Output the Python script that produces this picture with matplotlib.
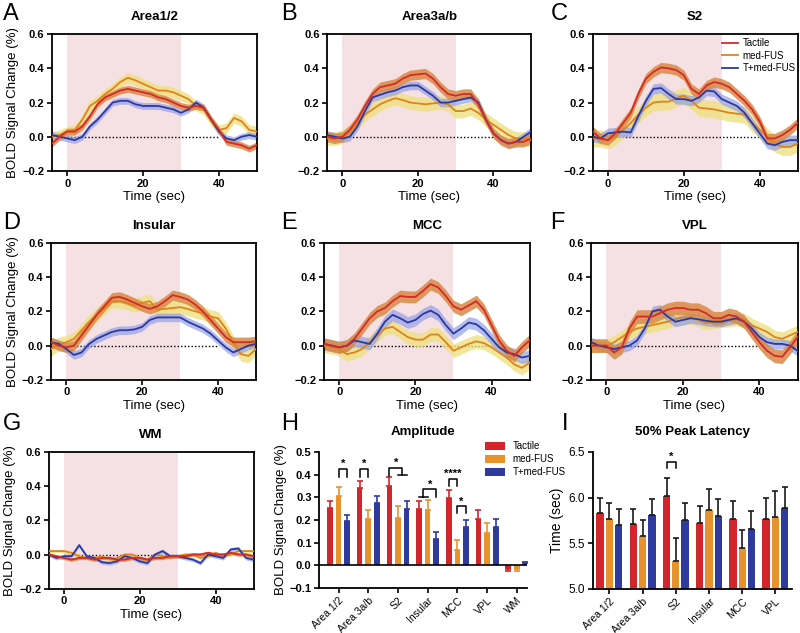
import numpy as np
import matplotlib.pyplot as plt

plt.rcParams['font.family'] = ['Liberation Sans', 'DejaVu Sans']

# ---- time courses (every 2 s) ----
time = [-4, -2, 0, 2, 4, 6, 8, 10, 12, 14, 16, 18, 20, 22, 24, 26, 28, 30,
        32, 34, 36, 38, 40, 42, 44, 46, 48, 50]

# Area1/2
a12_tac = [-0.04, 0.0, 0.03, 0.03, 0.06, 0.12, 0.19, 0.23, 0.25, 0.27, 0.28, 0.27, 0.26, 0.25,
           0.23, 0.22, 0.20, 0.18, 0.17, 0.18, 0.17, 0.10, 0.04, -0.03, -0.04, -0.05, -0.07, -0.05]
a12_med = [0.0, 0.01, 0.03, 0.04, 0.10, 0.18, 0.21, 0.25, 0.28, 0.32, 0.345, 0.33, 0.31, 0.29,
           0.27, 0.27, 0.26, 0.24, 0.22, 0.18, 0.16, 0.09, 0.04, 0.05, 0.11, 0.09, 0.04, 0.03]
a12_tmed = [0.01, 0.0, -0.01, -0.02, 0.0, 0.06, 0.10, 0.15, 0.20, 0.21, 0.21, 0.19, 0.18, 0.18,
            0.18, 0.17, 0.16, 0.14, 0.16, 0.20, 0.17, 0.10, 0.03, -0.01, -0.02, 0.0, 0.01, 0.0]
a12_sem = [0.02, 0.03, 0.02]

# Area3a/b
a3_tac = [0.0, -0.01, 0.0, 0.04, 0.10, 0.18, 0.25, 0.29, 0.30, 0.31, 0.34, 0.36, 0.365, 0.37,
          0.34, 0.29, 0.25, 0.24, 0.25, 0.25, 0.19, 0.10, 0.02, -0.02, -0.04, -0.03, -0.03, -0.01]
a3_med = [-0.01, -0.01, 0.0, 0.03, 0.08, 0.13, 0.16, 0.19, 0.21, 0.225, 0.215, 0.20, 0.195, 0.19,
          0.195, 0.20, 0.19, 0.15, 0.15, 0.165, 0.14, 0.10, 0.07, 0.04, 0.01, -0.01, -0.01, -0.02]
a3_tmed = [0.01, 0.0, -0.01, 0.0, 0.06, 0.15, 0.23, 0.245, 0.26, 0.27, 0.29, 0.30, 0.30, 0.27,
           0.24, 0.20, 0.20, 0.21, 0.22, 0.23, 0.20, 0.10, 0.02, -0.02, -0.04, -0.03, 0.0, 0.03]
a3_sem = [0.03, 0.04, 0.025]

# S2
s2_tac = [0.03, -0.01, -0.02, 0.02, 0.08, 0.14, 0.25, 0.34, 0.38, 0.405, 0.40, 0.39, 0.36, 0.28,
          0.25, 0.30, 0.32, 0.31, 0.29, 0.25, 0.21, 0.16, 0.09, -0.01, -0.01, 0.01, 0.04, 0.08]
s2_med = [-0.01, -0.01, -0.02, 0.0, 0.04, 0.08, 0.13, 0.17, 0.20, 0.205, 0.205, 0.225, 0.24, 0.21,
          0.17, 0.165, 0.16, 0.15, 0.14, 0.135, 0.13, 0.08, 0.04, 0.0, -0.04, -0.06, -0.06, -0.04]
s2_tmed = [0.0, -0.01, 0.02, 0.025, 0.03, 0.025, 0.12, 0.21, 0.28, 0.285, 0.25, 0.22, 0.22, 0.21,
           0.23, 0.27, 0.265, 0.22, 0.20, 0.18, 0.14, 0.08, 0.02, -0.04, -0.05, -0.03, -0.02, -0.02]
s2_sem = [0.03, 0.05, 0.03]

# Insular
ins_tac = [0.02, 0.0, -0.01, 0.0, 0.06, 0.12, 0.18, 0.23, 0.28, 0.285, 0.27, 0.25, 0.23, 0.215,
           0.23, 0.26, 0.295, 0.285, 0.27, 0.24, 0.20, 0.15, 0.10, 0.05, 0.02, 0.02, 0.02, 0.025]
ins_med = [-0.02, 0.01, 0.02, 0.04, 0.09, 0.14, 0.18, 0.22, 0.26, 0.26, 0.25, 0.235, 0.25, 0.26,
           0.21, 0.215, 0.22, 0.225, 0.215, 0.20, 0.19, 0.17, 0.16, 0.10, 0.02, -0.05, -0.06, -0.02]
ins_tmed = [0.02, 0.01, -0.02, -0.055, -0.04, 0.01, 0.04, 0.06, 0.08, 0.09, 0.09, 0.095, 0.11, 0.15,
            0.165, 0.165, 0.165, 0.165, 0.14, 0.12, 0.10, 0.07, 0.03, -0.01, -0.04, -0.02, 0.0, 0.01]
ins_sem = [0.03, 0.04, 0.025]

# MCC
mcc_tac = [0.01, 0.0, -0.01, 0.0, 0.04, 0.10, 0.16, 0.20, 0.22, 0.26, 0.29, 0.285, 0.285, 0.32,
           0.36, 0.34, 0.29, 0.23, 0.21, 0.235, 0.26, 0.21, 0.12, 0.03, -0.03, -0.06, -0.01, 0.03]
mcc_med = [0.0, -0.01, -0.02, -0.05, -0.04, -0.02, 0.02, 0.06, 0.10, 0.11, 0.08, 0.05, 0.035, 0.035,
           0.065, 0.065, 0.02, -0.03, -0.01, 0.01, 0.025, 0.015, -0.01, -0.04, -0.07, -0.11, -0.13, -0.10]
mcc_tmed = [0.01, 0.0, -0.01, 0.0, 0.03, 0.02, 0.01, 0.07, 0.14, 0.18, 0.16, 0.135, 0.15, 0.185,
            0.205, 0.18, 0.12, 0.07, 0.10, 0.135, 0.125, 0.09, 0.04, -0.01, -0.04, -0.05, -0.07, -0.06]
mcc_sem = [0.035, 0.04, 0.035]

# VPL
vpl_tac = [0.0, 0.0, 0.0, -0.04, -0.01, 0.10, 0.17, 0.17, 0.17, 0.19, 0.21, 0.22, 0.22, 0.21,
           0.21, 0.19, 0.16, 0.16, 0.18, 0.17, 0.14, 0.08, 0.02, -0.03, -0.06, -0.065, -0.01, 0.05]
vpl_med = [0.0, 0.0, 0.0, 0.02, 0.05, 0.08, 0.10, 0.11, 0.12, 0.13, 0.14, 0.155, 0.165, 0.165,
           0.15, 0.13, 0.14, 0.145, 0.15, 0.155, 0.15, 0.12, 0.10, 0.08, 0.05, 0.04, 0.06, 0.08]
vpl_tmed = [0.02, 0.0, -0.01, -0.02, -0.01, 0.0, 0.03, 0.10, 0.20, 0.21, 0.17, 0.14, 0.15, 0.16,
            0.155, 0.145, 0.14, 0.14, 0.15, 0.16, 0.14, 0.10, 0.05, 0.02, 0.01, 0.01, 0.0, -0.03]
vpl_sem = [0.04, 0.04, 0.03]

# WM
wm_tac = [0.0, -0.01, -0.02, -0.03, -0.02, -0.02, -0.03, -0.02, -0.02, -0.03, -0.03, -0.02, -0.02, -0.03,
          -0.02, -0.02, -0.01, -0.01, -0.01, 0.0, 0.0, 0.01, 0.0, 0.0, 0.01, 0.0, 0.0, -0.01]
wm_med = [0.02, 0.02, 0.02, 0.01, -0.01, -0.02, -0.02, -0.01, -0.03, -0.02, 0.0, 0.0, -0.02, -0.03,
          0.0, -0.01, -0.02, -0.01, 0.0, 0.0, -0.02, -0.01, 0.01, -0.01, 0.0, 0.02, 0.02, 0.02]
wm_tmed = [0.0, -0.02, -0.01, -0.01, 0.055, -0.01, -0.02, -0.045, -0.05, -0.04, -0.01, -0.02, -0.04, -0.05,
           0.0, 0.02, -0.01, -0.01, -0.02, -0.03, -0.05, 0.0, -0.01, -0.02, 0.03, 0.035, -0.02, -0.03]
wm_sem = [0.01, 0.01, 0.012]

# ---- amplitude ----
amp_groups = ['Area 1/2', 'Area 3a/b', 'S2', 'Insular', 'MCC', 'VPL', 'WM']
amp_tac = [0.255, 0.34, 0.352, 0.25, 0.295, 0.205, -0.018]
amp_tac_err = [0.03, 0.032, 0.036, 0.035, 0.037, 0.038, 0.007]
amp_med = [0.305, 0.205, 0.207, 0.243, 0.068, 0.143, -0.018]
amp_med_err = [0.04, 0.04, 0.055, 0.047, 0.042, 0.044, 0.007]
amp_tmed = [0.195, 0.275, 0.248, 0.115, 0.168, 0.17, 0.01]
amp_tmed_err = [0.025, 0.03, 0.034, 0.032, 0.032, 0.035, 0.005]

# ---- 50% peak latency ----
lat_groups = ['Area 1/2', 'Area 3a/b', 'S2', 'Insular', 'MCC', 'VPL']
lat_tac = [5.83, 5.71, 6.02, 5.72, 5.76, 5.77]
lat_tac_err = [0.16, 0.16, 0.19, 0.19, 0.20, 0.23]
lat_med = [5.76, 5.58, 5.30, 5.86, 5.45, 5.79]
lat_med_err = [0.18, 0.17, 0.26, 0.23, 0.19, 0.28]
lat_tmed = [5.70, 5.81, 5.75, 5.80, 5.66, 5.88]
lat_tmed_err = [0.17, 0.17, 0.19, 0.18, 0.19, 0.24]

labels = ['Tactile', 'med-FUS', 'T+med-FUS']

RED, ORANGE, BLUE = '#d42a2a', '#e0821e', '#2b3aa0'
RED_BAND, YEL_BAND, BLUE_BAND = '#d98a45', '#ede07a', '#8e9ae6'
PINK = '#f5e1e4'
BAR_RED, BAR_ORANGE, BAR_BLUE = '#d3262c', '#e8922e', '#2f3a9e'


def style_ticks(ax, bold=True, size=8):
    for lab in ax.get_xticklabels() + ax.get_yticklabels():
        lab.set_fontsize(size)
        if bold:
            lab.set_fontweight('bold')
    ax.tick_params(width=1.2, length=3.5, pad=2)


def ts_panel(ax, title, tac, med, tmed, sem, ylabel=False, legend=False):
    ax.axvspan(0, 30, color=PINK, lw=0, zorder=0)
    ax.hlines(0, 0, 40, colors='k', linestyles=(0, (1, 1.5)), lw=1, zorder=1)
    series = [(med, sem[1], ORANGE, YEL_BAND, 0.75),
              (tmed, sem[2], BLUE, BLUE_BAND, 0.65),
              (tac, sem[0], RED, RED_BAND, 0.85)]
    for y, s, lc, bc, a in series:
        y = np.array(y)
        ax.fill_between(time, y - s, y + s, color=bc, alpha=a, lw=0, zorder=2)
    lines = {}
    for (y, s, lc, bc, a), name in zip(series, [labels[1], labels[2], labels[0]]):
        lines[name], = ax.plot(time, y, color=lc, lw=1.3, zorder=3, label=name)
    ax.set_xlim(-4, 50)
    ax.set_ylim(-0.2, 0.6)
    ax.set_xticks([0, 20, 40])
    ax.set_yticks([-0.2, 0.0, 0.2, 0.4, 0.6])
    ax.yaxis.set_major_formatter('{x:.1f}')
    for sp in ax.spines.values():
        sp.set_linewidth(1.3)
    style_ticks(ax)
    ax.set_title(title, fontweight='bold', fontsize=9.5, pad=10)
    ax.set_xlabel('Time (sec)', fontsize=9.5, labelpad=2)
    if ylabel:
        ax.set_ylabel('BOLD Signal Change (%)', fontsize=9.5, labelpad=2)
    if legend:
        ax.legend([lines[n] for n in labels], labels, loc='upper left',
                  bbox_to_anchor=(0.6, 1.02), frameon=False, fontsize=7,
                  handlelength=1.6, handletextpad=0.5, labelspacing=0.25, borderpad=0.2)


fig = plt.figure(figsize=(8, 6.33), dpi=100)

panels = [
    ([0.065, 0.730, 0.256, 0.216], 'Area1/2', a12_tac, a12_med, a12_tmed, a12_sem, True, False),
    ([0.409, 0.730, 0.255, 0.216], 'Area3a/b', a3_tac, a3_med, a3_tmed, a3_sem, False, False),
    ([0.741, 0.730, 0.256, 0.216], 'S2', s2_tac, s2_med, s2_tmed, s2_sem, False, True),
    ([0.064, 0.400, 0.256, 0.216], 'Insular', ins_tac, ins_med, ins_tmed, ins_sem, True, False),
    ([0.405, 0.400, 0.257, 0.216], 'MCC', mcc_tac, mcc_med, mcc_tmed, mcc_sem, False, False),
    ([0.739, 0.400, 0.258, 0.216], 'VPL', vpl_tac, vpl_med, vpl_tmed, vpl_sem, False, False),
    ([0.061, 0.070, 0.256, 0.216], 'WM', wm_tac, wm_med, wm_tmed, wm_sem, True, False),
]
for rect, title, tac, med, tmed, sem, yl, leg in panels:
    ax = fig.add_axes(rect)
    ts_panel(ax, title, tac, med, tmed, sem, ylabel=yl, legend=leg)


def one_sided(vals, errs):
    lo = [e if v < 0 else 0 for v, e in zip(vals, errs)]
    hi = [0 if v < 0 else e for v, e in zip(vals, errs)]
    return [lo, hi]


def bracket(ax, x1, x2, y, h, text, ty=None):
    ax.plot([x1, x1, x2, x2], [y - h, y, y, y - h], color='k', lw=1.1, clip_on=False)
    ax.text((x1 + x2) / 2, y if ty is None else ty, text, ha='center', va='bottom',
            fontsize=8, fontweight='bold')


# ---- H: amplitude ----
axh = fig.add_axes([0.399, 0.071, 0.26, 0.215])
x = np.arange(len(amp_groups))
step, w = 0.29, 0.19
bars = []
for off, vals, errs, c in [(-step, amp_tac, amp_tac_err, BAR_RED),
                           (0, amp_med, amp_med_err, BAR_ORANGE),
                           (step, amp_tmed, amp_tmed_err, BAR_BLUE)]:
    b = axh.bar(x + off, vals, w, color=c, yerr=one_sided(vals, errs),
                error_kw=dict(ecolor=c, elinewidth=1.2, capsize=2, capthick=1.2))
    bars.append(b)
axh.axhline(0, color='k', lw=1.2)
axh.set_xlim(-0.65, 6.35)
axh.set_ylim(-0.1, 0.5)
axh.set_yticks([-0.1, 0.0, 0.1, 0.2, 0.3, 0.4, 0.5])
axh.yaxis.set_major_formatter('{x:.1f}')
axh.set_xticks(x)
axh.set_xticklabels(amp_groups, rotation=45, ha='right', rotation_mode='anchor')
axh.spines[['top', 'right']].set_visible(False)
axh.spines[['left', 'bottom']].set_linewidth(1.3)
style_ticks(axh)
for lab in axh.get_xticklabels():
    lab.set_fontweight('normal')
    lab.set_fontsize(7.5)
axh.set_title('Amplitude', fontweight='bold', fontsize=9.5, pad=12)
axh.set_ylabel('BOLD Signal Change (%)', fontsize=9.5, labelpad=2)
axh.legend(bars, labels, loc='upper left', bbox_to_anchor=(0.77, 1.12), frameon=False,
           fontsize=7, handlelength=2.0, handleheight=1.0, labelspacing=0.3, borderpad=0.1)

# significance marks
bracket(axh, 0, step, 0.425, 0.035, '*')
bracket(axh, 1 - step, 1, 0.425, 0.035, '*')
axh.plot([2 - step, 2 - step, 2 + step / 2, 2 + step / 2], [0.395, 0.43, 0.43, 0.40], color='k', lw=1.1)
axh.plot([2, 2 + step], [0.40, 0.40], color='k', lw=1.1)
axh.text(2 - step / 4, 0.43, '*', ha='center', va='bottom', fontsize=8, fontweight='bold')
axh.plot([3 - step, 3], [0.303, 0.303], color='k', lw=1.1)
axh.plot([3 - step / 2, 3 - step / 2, 3 + step, 3 + step], [0.303, 0.335, 0.335, 0.30], color='k', lw=1.1)
axh.text(3 + step / 4, 0.335, '*', ha='center', va='bottom', fontsize=8, fontweight='bold')
bracket(axh, 4 - step, 4, 0.38, 0.03, '****')
bracket(axh, 4, 4 + step, 0.26, 0.03, '*')

# ---- I: latency ----
axi = fig.add_axes([0.741, 0.070, 0.249, 0.216])
x = np.arange(len(lat_groups))
step, w = 0.28, 0.22
for off, vals, errs, c in [(-step, lat_tac, lat_tac_err, BAR_RED),
                           (0, lat_med, lat_med_err, BAR_ORANGE),
                           (step, lat_tmed, lat_tmed_err, BAR_BLUE)]:
    axi.bar(x + off, vals, w, color=c, yerr=[[0] * len(errs), errs],
            error_kw=dict(ecolor='#1a1a1a', elinewidth=1.2, capsize=2, capthick=1.2))
axi.set_xlim(-0.5, 5.5)
axi.set_ylim(5.0, 6.5)
axi.set_yticks([5.0, 5.5, 6.0, 6.5])
axi.yaxis.set_major_formatter('{x:.1f}')
axi.set_xticks(x)
axi.set_xticklabels(lat_groups, rotation=45, ha='right', rotation_mode='anchor')
axi.spines[['top', 'right']].set_visible(False)
axi.spines[['left', 'bottom']].set_linewidth(1.3)
style_ticks(axi, bold=False, size=8.5)
for lab in axi.get_xticklabels():
    lab.set_fontsize(7.5)
axi.set_title('50% Peak Latency', fontweight='bold', fontsize=9.5, pad=12)
axi.set_ylabel('Time (sec)', fontsize=10, labelpad=3)
bracket(axi, 2 - step, 2, 6.39, 0.07, '*')

# panel letters
for letter, px, py in [('A', 0.004, 0.995), ('B', 0.352, 0.995), ('C', 0.688, 0.995),
                       ('D', 0.004, 0.665), ('E', 0.352, 0.665), ('F', 0.688, 0.665),
                       ('G', 0.004, 0.347), ('H', 0.352, 0.347), ('I', 0.702, 0.347)]:
    fig.text(px, py, letter, fontsize=17, va='top', ha='left')

fig.savefig('out.png', dpi=100)
